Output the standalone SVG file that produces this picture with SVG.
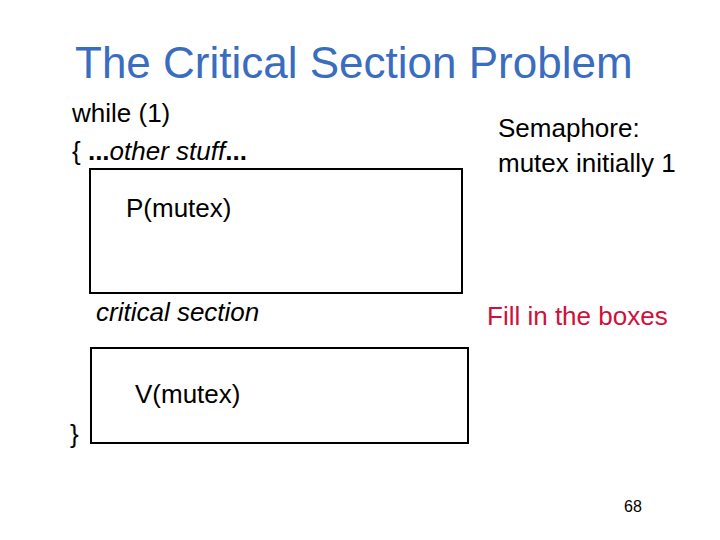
<svg xmlns="http://www.w3.org/2000/svg" width="720" height="540" viewBox="0 0 720 540">
<style>
text{font-family:"Liberation Sans",Arial,sans-serif;font-size:26px;fill:#000}
.box{fill:#fff;stroke:#000;stroke-width:2}
</style>
<rect width="720" height="540" fill="#fff"/>
<text x="75" y="78" style="font-size:44px;fill:#3a6cc0">The Critical Section Problem</text>
<text x="72" y="122">while (1)</text>
<text x="72" y="160">{ <tspan font-weight="bold">...</tspan><tspan font-style="italic">other stuff</tspan><tspan font-weight="bold">...</tspan></text>
<g id="box1"><rect class="box" x="90" y="169" width="372" height="124"/><text x="126" y="217">P(mutex)</text></g>
<text x="96" y="321" font-style="italic">critical section</text>
<g id="box2"><rect class="box" x="91" y="348" width="377" height="95"/><text x="135" y="403">V(mutex)</text></g>
<text x="70" y="443">}</text>
<g id="connectors"/>
<text x="498" y="137">Semaphore:</text>
<text x="498" y="172">mutex initially 1</text>
<text x="487" y="325" style="fill:#d0103a">Fill in the boxes</text>
<text x="624" y="512" style="font-size:16px">68</text>
</svg>
